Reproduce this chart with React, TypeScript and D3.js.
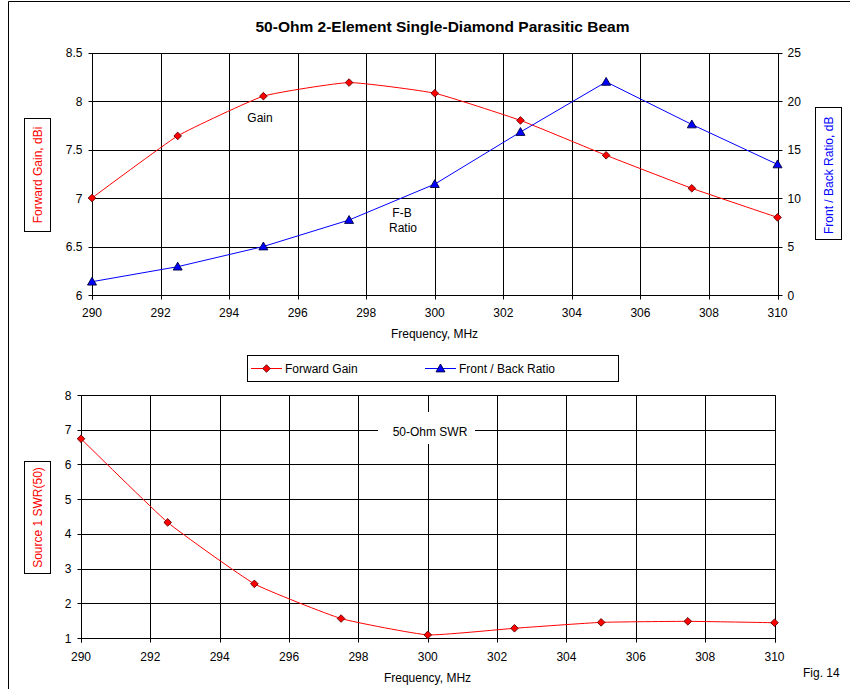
import React from 'react';
import * as d3 from 'd3';

const freq = [290, 292.5, 295, 297.5, 300, 302.5, 305, 307.5, 310];
const gain = [7.0, 7.64, 8.05, 8.19, 8.08, 7.8, 7.44, 7.1, 6.8];
const fbRatio = [1.37, 2.92, 5.0, 7.73, 11.43, 16.8, 21.97, 17.58, 13.46];
const swr = [6.74, 4.33, 2.56, 1.56, 1.09, 1.28, 1.45, 1.48, 1.44];
const xTicks = [290, 292, 294, 296, 298, 300, 302, 304, 306, 308, 310];
const gainTicks = [6, 6.5, 7, 7.5, 8, 8.5];
const fbTicks = [0, 5, 10, 15, 20, 25];
const swrTicks = [1, 2, 3, 4, 5, 6, 7, 8];

const FONT = "'Liberation Sans', Arial, sans-serif";
const p = (v: number) => Math.round(v) + 0.5;

function Diamond({ x, y }: { x: number; y: number }) {
  const r = 3.8;
  return (
    <path
      d={`M${x},${y - r}L${x + r},${y}L${x},${y + r}L${x - r},${y}Z`}
      fill="#ff0000"
      stroke="#600000"
      strokeWidth={0.9}
    />
  );
}

function Triangle({ x, y }: { x: number; y: number }) {
  const r = 4.5;
  return (
    <path
      d={`M${x},${y - r}L${x + r},${y + r * 0.75}L${x - r},${y + r * 0.75}Z`}
      fill="#0000ff"
      stroke="#000040"
      strokeWidth={0.9}
    />
  );
}

export default function App() {
  // top chart
  const x1 = d3.scaleLinear().domain([290, 310]).range([92, 777.5]);
  const yG = d3.scaleLinear().domain([6, 8.5]).range([295, 52.5]);
  const yF = d3.scaleLinear().domain([0, 25]).range([295, 52.5]);
  // bottom chart
  const x2 = d3.scaleLinear().domain([290, 310]).range([81, 774.5]);
  const yS = d3.scaleLinear().domain([1, 8]).range([638, 395]);

  const gainLine = d3
    .line<number>()
    .x((_, i) => x1(freq[i]))
    .y((d) => yG(d))
    .curve(d3.curveCardinal.tension(0.6));
  const fbLine = d3
    .line<number>()
    .x((_, i) => x1(freq[i]))
    .y((d) => yF(d))
    .curve(d3.curveLinear);
  const swrLine = d3
    .line<number>()
    .x((_, i) => x2(freq[i]))
    .y((d) => yS(d))
    .curve(d3.curveCardinal.tension(0.6));

  const t1 = { l: p(x1(290)), r: p(x1(310)), t: p(yG(8.5)), b: p(yG(6)) };
  const t2 = { l: p(x2(290)), r: p(x2(310)), t: p(yS(8)), b: p(yS(1)) };

  return (
    <svg
      width={850}
      height={689}
      style={{ position: 'absolute', left: 0, top: 0, background: '#fff' }}
      fontFamily={FONT}
    >
      <defs>
        <clipPath id="fbclip">
          <rect x={815} y={107.5} width={26} height={132} />
        </clipPath>
      </defs>
      <rect x={0} y={0} width={850} height={689} fill="#fff" />
      {/* outer frame */}
      <line x1={8.5} x2={8.5} y1={1.5} y2={689} stroke="#000" />
      <line x1={8.5} x2={850} y1={1.5} y2={1.5} stroke="#000" />

      {/* title */}
      <text
        x={442.5}
        y={32}
        textAnchor="middle"
        fontSize={15}
        fontWeight="bold"
        fontFamily="'Liberation Sans Narrow', 'Arial Narrow', 'Liberation Sans', sans-serif"
        textLength={374}
        lengthAdjust="spacingAndGlyphs"
      >
        50-Ohm 2-Element Single-Diamond Parasitic Beam
      </text>

      {/* ===== top chart ===== */}
      <g>
        {xTicks.map((t) => (
          <line key={'vx' + t} x1={p(x1(t))} x2={p(x1(t))} y1={t1.t} y2={t1.b + 4} stroke="#000" />
        ))}
        {gainTicks.map((t) => (
          <line key={'hy' + t} x1={t1.l - 4} x2={t1.r + 4} y1={p(yG(t))} y2={p(yG(t))} stroke="#000" />
        ))}
        <line x1={t1.l} x2={t1.l} y1={t1.t} y2={t1.b + 4} stroke="#000" />
        <line x1={t1.r} x2={t1.r} y1={t1.t} y2={t1.b + 4} stroke="#000" />
        {gainTicks.map((t) => (
          <text key={'gl' + t} x={t1.l - 10} y={yG(t) + 4.5} textAnchor="end" fontSize={12} fill="#000">
            {String(t)}
          </text>
        ))}
        {fbTicks.map((t) => (
          <text key={'fl' + t} x={t1.r + 9} y={yF(t) + 4.5} textAnchor="start" fontSize={12} fill="#000">
            {String(t)}
          </text>
        ))}
        {xTicks.map((t) => (
          <text key={'xl' + t} x={x1(t)} y={t1.b + 21} textAnchor="middle" fontSize={12} fill="#000">
            {String(t)}
          </text>
        ))}
        <text x={434.5} y={338} textAnchor="middle" fontSize={12}>
          Frequency, MHz
        </text>

        <path d={gainLine(gain) || ''} fill="none" stroke="#ff0000" strokeWidth={1} />
        <path d={fbLine(fbRatio) || ''} fill="none" stroke="#0000ff" strokeWidth={1} />
        {gain.map((v, i) => (
          <Diamond key={'gd' + i} x={x1(freq[i])} y={yG(v)} />
        ))}
        {fbRatio.map((v, i) => (
          <Triangle key={'ft' + i} x={x1(freq[i])} y={yF(v)} />
        ))}

        <text x={260} y={122} textAnchor="middle" fontSize={12}>Gain</text>
        <text x={402} y={217} textAnchor="middle" fontSize={12}>F-B</text>
        <text x={403} y={232} textAnchor="middle" fontSize={12}>Ratio</text>

        {/* left axis title */}
        <rect x={24.5} y={118.5} width={26} height={113} fill="#fff" stroke="#000" />
        <text
          transform="translate(41.5,175) rotate(-90)"
          textAnchor="middle"
          fontSize={12}
          fill="#ff0000"
        >
          Forward Gain,  dBi
        </text>
        {/* right axis title */}
        <rect x={815.5} y={107.5} width={26} height={132} fill="#fff" stroke="#000" />
        <g clipPath="url(#fbclip)">
          <text
            transform="translate(832.5,234) rotate(-90)"
            textAnchor="start"
            fontSize={12}
            fill="#0000ff"
          >
            Front / Back Ratio,  dB
          </text>
        </g>
      </g>

      {/* legend */}
      <g>
        <rect x={247.5} y={355.5} width={371} height={26} fill="#fff" stroke="#000" />
        <line x1={251} x2={282} y1={368.5} y2={368.5} stroke="#ff0000" />
        <Diamond x={266.5} y={368.5} />
        <text x={285} y={373} fontSize={12}>Forward Gain</text>
        <line x1={425} x2={456} y1={368.5} y2={368.5} stroke="#0000ff" />
        <Triangle x={440.5} y={368.5} />
        <text x={459} y={373} fontSize={12}>Front / Back Ratio</text>
      </g>

      {/* ===== bottom chart ===== */}
      <g>
        {xTicks.map((t) => (
          <line key={'bvx' + t} x1={p(x2(t))} x2={p(x2(t))} y1={t2.t} y2={t2.b + 4} stroke="#000" />
        ))}
        {swrTicks.map((t) => (
          <line key={'bhy' + t} x1={t2.l - 4} x2={t2.r} y1={p(yS(t))} y2={p(yS(t))} stroke="#000" />
        ))}
        <line x1={t2.l} x2={t2.l} y1={t2.t} y2={t2.b + 4} stroke="#000" />
        <line x1={t2.r} x2={t2.r} y1={t2.t} y2={t2.b + 4} stroke="#000" />
        {swrTicks.map((t) => (
          <text key={'sl' + t} x={t2.l - 10} y={yS(t) + 4.5} textAnchor="end" fontSize={12}>
            {String(t)}
          </text>
        ))}
        {xTicks.map((t) => (
          <text key={'bxl' + t} x={x2(t)} y={t2.b + 22} textAnchor="middle" fontSize={12}>
            {String(t)}
          </text>
        ))}
        <text x={427.5} y={682} textAnchor="middle" fontSize={12}>
          Frequency, MHz
        </text>

        {/* SWR label box */}
        <rect x={378} y={412} width={97} height={32} fill="#fff" />
        <text x={430} y={436} textAnchor="middle" fontSize={12}>50-Ohm SWR</text>

        <path d={swrLine(swr) || ''} fill="none" stroke="#ff0000" strokeWidth={1} />
        {swr.map((v, i) => (
          <Diamond key={'sd' + i} x={x2(freq[i])} y={yS(v)} />
        ))}

        <rect x={24.5} y={461.5} width={26} height={112} fill="#fff" stroke="#000" />
        <text
          transform="translate(41.5,517.5) rotate(-90)"
          textAnchor="middle"
          fontSize={12}
          fill="#ff0000"
        >
          Source 1 SWR(50)
        </text>
      </g>

      <text x={803} y={677} fontSize={12}>Fig. 14</text>
    </svg>
  );
}
